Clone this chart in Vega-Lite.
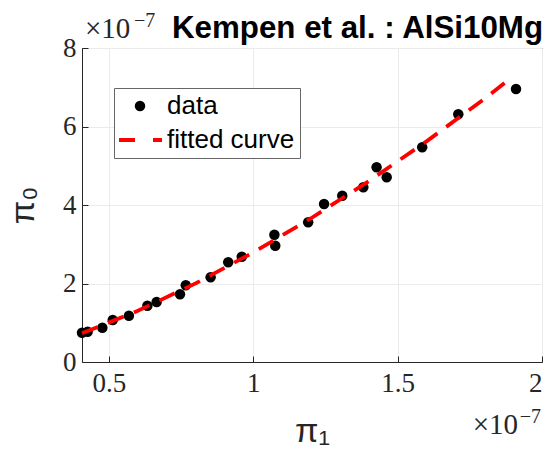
{
  "$schema": "https://vega.github.io/schema/vega-lite/v6.json",
  "width": 460,
  "height": 314,
  "autosize": {"type": "none"},
  "padding": {"left": 82, "top": 48, "right": 8, "bottom": 97},
  "background": "white",
  "config": {
    "view": {"stroke": "#262626", "strokeWidth": 1},
    "axis": {
      "domainColor": "#262626",
      "tickColor": "#262626",
      "tickSize": -6,
      "gridColor": "#ebebeb",
      "gridWidth": 1,
      "labelFont": "Liberation Serif",
      "labelFontSize": 27,
      "labelColor": "#262626",
      "titleFont": "Liberation Sans",
      "titleFontSize": 34,
      "titleFontWeight": "normal",
      "titleColor": "#262626"
    },
    "legend": {
      "padding": 5,
      "fillColor": "white",
      "strokeColor": "#666666",
      "strokeWidth": 1,
      "labelFont": "Liberation Sans",
      "labelFontSize": 26,
      "labelColor": "black",
      "symbolSize": 110,
      "symbolStrokeWidth": 0,
      "symbolOffset": 8,
      "labelOffset": 14,
      "rowPadding": 8
    }
  },
  "datasets": {
    "points": [
      {"x": 0.4065, "y": 0.747, "series": "data"},
      {"x": 0.426, "y": 0.772, "series": "data"},
      {"x": 0.477, "y": 0.874, "series": "data"},
      {"x": 0.513, "y": 1.07, "series": "data"},
      {"x": 0.569, "y": 1.18, "series": "data"},
      {"x": 0.633, "y": 1.434, "series": "data"},
      {"x": 0.665, "y": 1.529, "series": "data"},
      {"x": 0.746, "y": 1.725, "series": "data"},
      {"x": 0.766, "y": 1.954, "series": "data"},
      {"x": 0.852, "y": 2.158, "series": "data"},
      {"x": 0.913, "y": 2.54, "series": "data"},
      {"x": 0.96, "y": 2.683, "series": "data"},
      {"x": 1.073, "y": 3.241, "series": "data"},
      {"x": 1.076, "y": 2.963, "series": "data"},
      {"x": 1.19, "y": 3.559, "series": "data"},
      {"x": 1.245, "y": 4.025, "series": "data"},
      {"x": 1.308, "y": 4.237, "series": "data"},
      {"x": 1.381, "y": 4.451, "series": "data"},
      {"x": 1.427, "y": 4.96, "series": "data"},
      {"x": 1.462, "y": 4.706, "series": "data"},
      {"x": 1.585, "y": 5.47, "series": "data"},
      {"x": 1.71, "y": 6.311, "series": "data"},
      {"x": 1.91, "y": 6.955, "series": "data"}
    ],
    "fit": [
      {"x": 0.4065, "y": 0.73},
      {"x": 0.6, "y": 1.304},
      {"x": 0.8, "y": 2.002},
      {"x": 1.0, "y": 2.791},
      {"x": 1.2, "y": 3.663},
      {"x": 1.4, "y": 4.608},
      {"x": 1.6, "y": 5.622},
      {"x": 1.8, "y": 6.702},
      {"x": 1.891, "y": 7.23}
    ]
  },
  "layer": [
    {
      "data": {"name": "points"},
      "mark": {"type": "point", "filled": true, "size": 110, "strokeWidth": 0, "opacity": 1},
      "encoding": {
        "x": {
          "field": "x", "type": "quantitative",
          "scale": {"domain": [0.4065, 2], "nice": false, "zero": false},
          "axis": {"values": [0.5, 1, 1.5, 2], "format": "~g", "labelPadding": 14, "title": "π₁", "titlePadding": 18}
        },
        "y": {
          "field": "y", "type": "quantitative",
          "scale": {"domain": [0, 8], "nice": false, "zero": false},
          "axis": {"values": [0, 2, 4, 6, 8], "format": "~g", "labelPadding": 12, "title": "π₀", "titlePadding": 22}
        },
        "color": {
          "field": "series", "type": "nominal",
          "scale": {"domain": ["data", "fitted curve"], "range": ["black", "#ff0000"]},
          "legend": {"title": null, "orient": "none", "legendX": 32, "legendY": 40}
        },
        "shape": {
          "field": "series", "type": "nominal",
          "scale": {"domain": ["data", "fitted curve"], "range": ["circle", "M-4,-0.38H-0.95V0.38H-4Z M2.48,-0.38H4.2V0.38H2.48Z"]},
          "legend": {"title": null, "orient": "none", "legendX": 32, "legendY": 40}
        }
      }
    },
    {
      "data": {"name": "fit"},
      "mark": {"type": "line", "color": "#ff0000", "strokeWidth": 3.8, "strokeDash": [17, 11]},
      "encoding": {
        "x": {"field": "x", "type": "quantitative"},
        "y": {"field": "y", "type": "quantitative"}
      }
    },
    {
      "data": {"values": [{}]},
      "mark": {"type": "text", "align": "right", "baseline": "alphabetic", "dx": 1, "dy": -10, "font": "Liberation Sans", "fontSize": 31.3, "fontWeight": "bold", "color": "black"},
      "encoding": {
        "x": {"datum": 2, "type": "quantitative"},
        "y": {"datum": 8, "type": "quantitative"},
        "text": {"value": "Kempen et al. : AlSi10Mg"}
      }
    },
    {
      "data": {"values": [{}]},
      "mark": {"type": "text", "align": "left", "baseline": "alphabetic", "dx": 3, "dy": -10, "font": "Liberation Serif", "fontSize": 29, "color": "#262626"},
      "encoding": {
        "x": {"datum": 0.4065, "type": "quantitative"},
        "y": {"datum": 8, "type": "quantitative"},
        "text": {"value": "×10"}
      }
    },
    {
      "data": {"values": [{}]},
      "mark": {"type": "text", "align": "left", "baseline": "alphabetic", "dx": 52, "dy": -21, "font": "Liberation Serif", "fontSize": 20, "color": "#262626"},
      "encoding": {
        "x": {"datum": 0.4065, "type": "quantitative"},
        "y": {"datum": 8, "type": "quantitative"},
        "text": {"value": "−7"}
      }
    },
    {
      "data": {"values": [{}]},
      "mark": {"type": "text", "align": "right", "baseline": "alphabetic", "dx": -24, "dy": 72, "font": "Liberation Serif", "fontSize": 29, "color": "#262626"},
      "encoding": {
        "x": {"datum": 2, "type": "quantitative"},
        "y": {"datum": 0, "type": "quantitative"},
        "text": {"value": "×10"}
      }
    },
    {
      "data": {"values": [{}]},
      "mark": {"type": "text", "align": "right", "baseline": "alphabetic", "dx": -1, "dy": 61, "font": "Liberation Serif", "fontSize": 20, "color": "#262626"},
      "encoding": {
        "x": {"datum": 2, "type": "quantitative"},
        "y": {"datum": 0, "type": "quantitative"},
        "text": {"value": "−7"}
      }
    }
  ]
}
